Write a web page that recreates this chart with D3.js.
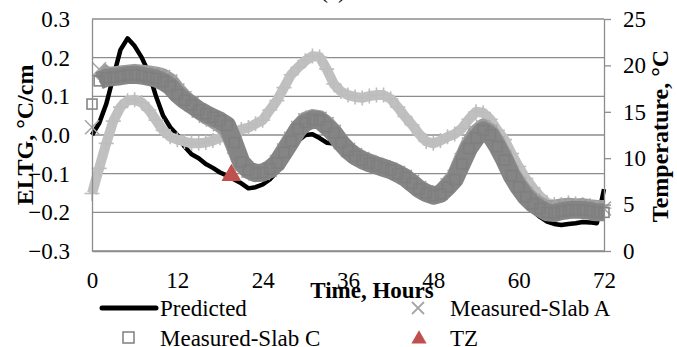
<!DOCTYPE html>
<html>
<head>
<meta charset="utf-8">
<script src="https://cdn.jsdelivr.net/npm/d3@7"></script>
<style>
  body { margin: 0; background: #fff; }
  svg { display: block; }
</style>
</head>
<body>
<script>
// hourly readings, t = 0..72 h
const hours = [0,1,2,3,4,5,6,7,8,9,10,11,12,13,14,15,16,17,18,19,20,21,22,23,24,
  25,26,27,28,29,30,31,32,33,34,35,36,37,38,39,40,41,42,43,44,45,46,47,48,
  49,50,51,52,53,54,55,56,57,58,59,60,61,62,63,64,65,66,67,68,69,70,71,72];

// ELTG, °C/cm
const predicted = [0.00,0.03,0.08,0.15,0.22,0.25,0.23,0.20,0.16,0.10,0.05,0.02,0.00,
  -0.03,-0.05,-0.06,-0.075,-0.085,-0.097,-0.105,-0.115,-0.125,-0.138,-0.135,-0.128,
  -0.115,-0.095,-0.07,-0.04,-0.015,0.0,0.002,-0.008,-0.02,-0.022,-0.035,-0.048,
  -0.058,-0.068,-0.075,-0.082,-0.088,-0.095,-0.105,-0.115,-0.13,-0.148,-0.162,-0.168,
  -0.16,-0.14,-0.118,-0.078,-0.035,-0.003,0.015,0.0,-0.035,-0.07,-0.108,-0.14,-0.172,
  -0.196,-0.212,-0.224,-0.23,-0.233,-0.23,-0.228,-0.225,-0.226,-0.228,-0.14];

const slabA = [0.02,0.17,0.155,0.155,0.158,0.16,0.162,0.16,0.158,0.155,0.15,0.138,0.115,
  0.095,0.08,0.063,0.05,0.04,0.028,0.015,-0.03,-0.075,-0.092,-0.1,-0.098,
  -0.09,-0.07,-0.04,-0.01,0.018,0.038,0.045,0.042,0.028,0.008,-0.018,-0.038,
  -0.052,-0.062,-0.07,-0.077,-0.083,-0.09,-0.098,-0.108,-0.122,-0.137,-0.148,-0.155,
  -0.15,-0.13,-0.108,-0.065,-0.025,0.005,0.02,0.008,-0.022,-0.058,-0.098,-0.128,-0.152,
  -0.17,-0.182,-0.19,-0.19,-0.186,-0.184,-0.186,-0.185,-0.188,-0.19,-0.19];

const slabC = [0.08,0.14,0.148,0.15,0.152,0.155,0.156,0.154,0.15,0.146,0.138,0.126,0.105,
  0.09,0.078,0.065,0.055,0.046,0.037,0.025,-0.02,-0.07,-0.09,-0.098,-0.097,
  -0.088,-0.073,-0.045,-0.016,0.015,0.032,0.04,0.038,0.022,0.005,-0.02,-0.04,
  -0.055,-0.065,-0.073,-0.079,-0.085,-0.091,-0.10,-0.11,-0.125,-0.14,-0.15,-0.157,
  -0.152,-0.135,-0.115,-0.075,-0.035,-0.008,0.012,0.0,-0.03,-0.065,-0.105,-0.135,-0.16,
  -0.178,-0.19,-0.2,-0.202,-0.197,-0.194,-0.193,-0.194,-0.196,-0.2,-0.2];

// Temperature, °C (right axis)
const temperature = [6.2,8.9,11.6,14.0,15.5,16.2,16.3,16.0,15.2,14.1,13.0,12.3,12.0,
  11.8,11.6,11.6,11.7,11.9,12.2,12.5,12.8,13.1,13.3,13.7,14.1,
  15.2,16.2,17.6,19.0,19.8,20.5,21.0,20.9,19.6,18.0,17.2,16.8,
  16.6,16.5,16.7,16.8,16.8,16.4,15.5,14.5,13.6,12.6,11.8,11.6,
  11.9,12.3,12.6,13.2,14.2,15.0,14.9,14.2,13.0,12.0,10.5,9.1,7.8,
  6.8,5.9,5.2,5.0,5.0,5.2,5.1,5.0,4.9,4.7,4.6];

const tzTime = [19.6];
const tzValue = [-0.104];

const xTicks = [0, 12, 24, 36, 48, 60, 72];
const leftTicks = [-0.3, -0.2, -0.1, 0.0, 0.1, 0.2, 0.3];
const rightTicks = [0, 5, 10, 15, 20, 25];

const W = 677, H = 347;
const gridColor = "#8c8c8c";
const serif = '"Liberation Serif", "Times New Roman", serif';
const fs = 23;

const svg = d3.select("body").append("svg")
  .attr("width", W)
  .attr("height", H)
  .attr("font-family", serif);

const x = d3.scaleLinear().domain([0, 72]).range([92, 604]);
const yL = d3.scaleLinear().domain([-0.3, 0.3]).range([251, 19]);
const yR = d3.scaleLinear().domain([0, 25]).range([251, 19]);

// title, mostly cropped off at the top
svg.append("text")
  .attr("x", 333).attr("y", -2)
  .attr("text-anchor", "middle")
  .attr("font-size", fs)
  .text("(c)");

// gridlines
svg.append("g")
  .selectAll("line")
  .data(leftTicks)
  .join("line")
  .attr("x1", x(0)).attr("x2", x(72))
  .attr("y1", (d) => yL(d)).attr("y2", (d) => yL(d))
  .attr("stroke", gridColor)
  .attr("stroke-width", 1.3);

/******************** series ********************/
const plot = svg.append("g");

const lineL = (vals, from = 0) =>
  d3.line().defined((d, i) => i >= from)
    .x((d, i) => x(hours[i])).y((d) => yL(d))(vals);
const lineR = (vals) =>
  d3.line().x((d, i) => x(hours[i])).y((d) => yR(d))(vals);

// predicted
plot.append("path")
  .attr("d", lineL(predicted))
  .attr("fill", "none")
  .attr("stroke", "#000")
  .attr("stroke-width", 4.5)
  .attr("stroke-linejoin", "round");

// temperature (+ markers)
plot.append("path")
  .attr("d", lineR(temperature))
  .attr("fill", "none")
  .attr("stroke", "#c0c0c0")
  .attr("stroke-width", 10)
  .attr("stroke-linejoin", "round");
plot.append("g")
  .attr("stroke", "#bdbdbd")
  .attr("stroke-width", 1.6)
  .selectAll("path")
  .data(temperature)
  .join("path")
  .attr("d", (d, i) => {
    const cx = x(hours[i]), cy = yR(d), s = 7.5;
    return `M${cx - s},${cy}H${cx + s}M${cx},${cy - s}V${cy + s}`;
  });

// Slab A (crosses)
plot.append("path")
  .attr("d", lineL(slabA, 1))
  .attr("fill", "none")
  .attr("stroke", "#9c9c9c")
  .attr("stroke-width", 17)
  .attr("stroke-linejoin", "round");
plot.append("g")
  .attr("stroke", "#a6a6a6")
  .attr("stroke-width", 1.6)
  .selectAll("path")
  .data(slabA)
  .join("path")
  .attr("d", (d, i) => {
    const cx = x(hours[i]), cy = yL(d), s = 7;
    return `M${cx - s},${cy - s}L${cx + s},${cy + s}M${cx - s},${cy + s}L${cx + s},${cy - s}`;
  });

// Slab C (squares)
plot.append("path")
  .attr("d", lineL(slabC, 1))
  .attr("fill", "none")
  .attr("stroke", "#858585")
  .attr("stroke-width", 18)
  .attr("stroke-linejoin", "round");
plot.append("g")
  .attr("fill", "none")
  .attr("stroke", "#7f7f7f")
  .attr("stroke-width", 1.5)
  .selectAll("rect")
  .data(slabC)
  .join("rect")
  .attr("x", (d, i) => x(hours[i]) - 5)
  .attr("y", (d) => yL(d) - 5)
  .attr("width", 10)
  .attr("height", 10);

// TZ
plot.append("g")
  .selectAll("path")
  .data(tzValue)
  .join("path")
  .attr("transform", (d, i) => `translate(${x(tzTime[i])},${yL(d)})`)
  .attr("d", d3.symbol().type(d3.symbolTriangle).size(170))
  .attr("fill", "#c0504d");

/******************** axes ********************/
const styleAxis = (g) => {
  g.attr("font-size", fs).attr("font-family", serif);
  g.selectAll("text").attr("fill", "#000");
  g.selectAll("line").attr("stroke", gridColor).attr("stroke-width", 1.3);
  g.select(".domain").attr("stroke", gridColor).attr("stroke-width", 1.3);
};

svg.append("g")
  .attr("transform", `translate(${x(0)},0)`)
  .call(d3.axisLeft(yL).tickValues(leftTicks).tickFormat(d3.format(".1f"))
    .tickSize(0).tickPadding(22))
  .call(styleAxis);

svg.append("g")
  .attr("transform", `translate(${x(72)},0)`)
  .call(d3.axisRight(yR).tickValues(rightTicks).tickSize(7).tickSizeOuter(0)
    .tickPadding(12))
  .call(styleAxis);

svg.append("g")
  .attr("transform", `translate(0,${yL(-0.3)})`)
  .call(d3.axisBottom(x).tickValues(xTicks).tickSize(0).tickPadding(21))
  .call(styleAxis);

// axis titles
svg.append("text")
  .attr("transform", "translate(33,135) rotate(-90)")
  .attr("text-anchor", "middle")
  .attr("font-size", 24)
  .attr("font-weight", "bold")
  .text("ELTG, °C/cm");

svg.append("text")
  .attr("transform", "translate(668,136) rotate(-90)")
  .attr("text-anchor", "middle")
  .attr("font-size", 24)
  .attr("font-weight", "bold")
  .text("Temperature, °C");

svg.append("text")
  .attr("x", 372).attr("y", 298)
  .attr("text-anchor", "middle")
  .attr("font-size", 23)
  .attr("font-weight", "bold")
  .text("Time, Hours");

/******************** legend ********************/
const legend = svg.append("g").attr("font-size", fs);

legend.append("line")
  .attr("x1", 102).attr("x2", 156)
  .attr("y1", 308).attr("y2", 308)
  .attr("stroke", "#000")
  .attr("stroke-width", 5)
  .attr("stroke-linecap", "round");
legend.append("text").attr("x", 160).attr("y", 316).text("Predicted");

legend.append("path")
  .attr("d", "M412,302L424,314M412,314L424,302")
  .attr("stroke", "#a6a6a6")
  .attr("stroke-width", 1.8);
legend.append("text").attr("x", 450).attr("y", 316).text("Measured-Slab A");

legend.append("rect")
  .attr("x", 123).attr("y", 332)
  .attr("width", 11).attr("height", 11)
  .attr("fill", "none")
  .attr("stroke", "#7f7f7f")
  .attr("stroke-width", 1.5);
legend.append("text").attr("x", 160).attr("y", 346).text("Measured-Slab C");

legend.append("path")
  .attr("transform", "translate(419,339)")
  .attr("d", d3.symbol().type(d3.symbolTriangle).size(100))
  .attr("fill", "#c0504d");
legend.append("text").attr("x", 450).attr("y", 346).text("TZ");
</script>
</body>
</html>
